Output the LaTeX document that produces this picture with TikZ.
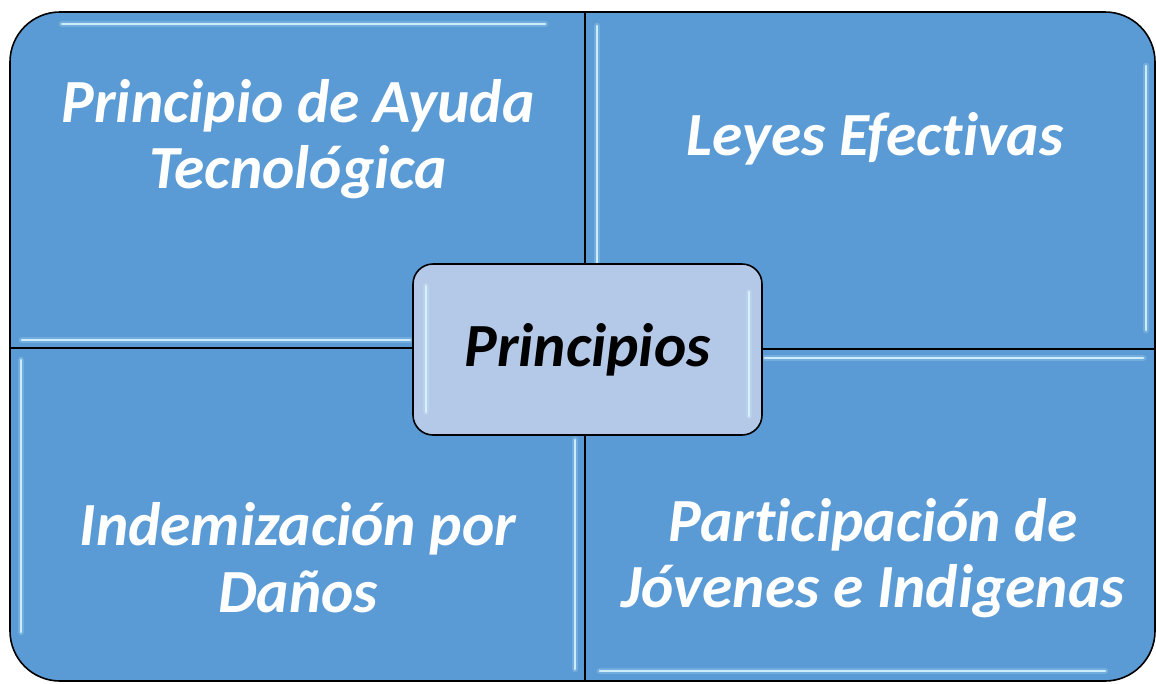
\documentclass[tikz,border=0pt]{standalone}
\usepackage{fontspec}
\setmainfont{Carlito}[Ligatures=NoCommon,RawFeature={-liga;-clig;-dlig}]
\definecolor{quadfill}{RGB}{91,155,213}
\definecolor{centerfill}{RGB}{180,200,231}
\definecolor{glintc}{RGB}{215,245,255}
\begin{document}
\begin{tikzpicture}[x=0.75pt,y=-0.75pt,
  quad/.style={fill=quadfill,draw=black,line width=1.2pt},
  glint/.style={draw=glintc,line width=2.2pt,line cap=round,opacity=0.9},
  glinthalo/.style={draw=glintc,line width=5pt,line cap=round,opacity=0.2},
  qtext/.style={text=white,font=\fontsize{46}{50}\selectfont\bfseries\itshape,align=center,inner sep=0pt},
  ctext/.style={text=black,font=\fontsize{46}{50}\selectfont\bfseries\itshape,inner sep=0pt},
  centerbox/.style={fill=centerfill,draw=black,line width=1.2pt,rounded corners=15pt,minimum width=261.75pt,minimum height=128.25pt}]
\useasboundingbox (0,0) rectangle (1156,683);
% quadrants
\path[quad] (585,348) -- (10,348) [rounded corners=37.5pt] -- (10,12) [sharp corners] -- (585,12) -- cycle;
\path[quad] (585,349) -- (585,12) [rounded corners=37.5pt] -- (1155,12) [sharp corners] -- (1155,349) -- cycle;
\path[quad] (585,348) -- (10,348) [rounded corners=37.5pt] -- (10,681) [sharp corners] -- (585,681) -- cycle;
\path[quad] (585,349) -- (1155,349) [rounded corners=37.5pt] -- (1155,681) [sharp corners] -- (585,681) -- cycle;
% glints
\foreach \a/\b in {{(62,24)}/{(545,24)}, {(22,340)}/{(410,340)}, {(597,26)}/{(597,338)}, {(1146,66)}/{(1146,330)}, {(21,360)}/{(21,632)}, {(575,440)}/{(575,669)}, {(765,358)}/{(1143,358)}, {(600,671)}/{(1105,671)}}{
  \draw[glinthalo] \a -- \b;
  \draw[glint] \a -- \b;
}
% texts
\node[qtext] (tl) at (298,139) {Principio de Ayuda\\Tecnológica};
\node[qtext] (tr) at (875,139) {Leyes Efectivas};
\node[qtext] (bl) at (298,558) {Indemización por\\Daños};
\node[qtext] (br) at (873,558) {Participación de\\Jóvenes e Indigenas};
% center
\node[centerbox] (c) at (587.5,349.5) {};
\draw[glinthalo] (426,286) -- (426,412);
\draw[glint] (426,286) -- (426,412);
\draw[glinthalo] (749,292) -- (749,416);
\draw[glint] (749,292) -- (749,416);
\node[ctext] (ct) at (c.center) {Principios};
\end{tikzpicture}
\end{document}
